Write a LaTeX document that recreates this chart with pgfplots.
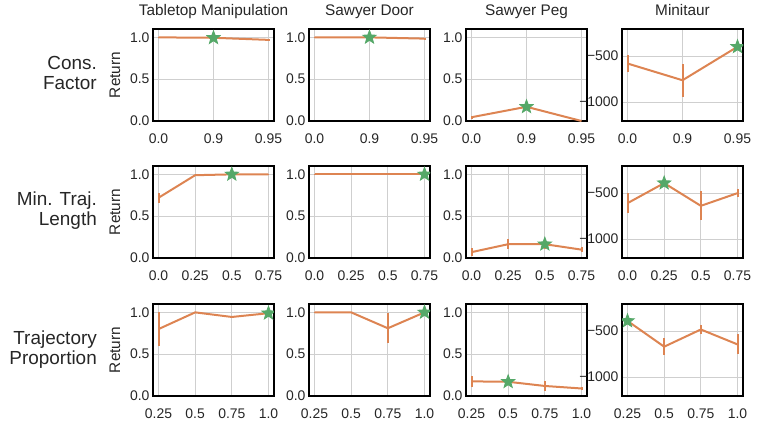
\documentclass[border=0pt]{standalone}
\usepackage{fontspec}
\setmainfont{Liberation Sans}
\usepackage{pgfplots}
\pgfplotsset{compat=1.18}

\definecolor{lineorange}{HTML}{DD8452}
\definecolor{stargreen}{HTML}{55A868}
\definecolor{gridgray}{HTML}{CFCFCF}
\definecolor{txt}{HTML}{262626}

% filled five-pointed star, like matplotlib's '*'
\pgfdeclareplotmark{fstar}{%
  \pgfpathmoveto{\pgfpointpolar{90}{\pgfplotmarksize}}%
  \pgfpathlineto{\pgfpointpolar{126}{0.42\pgfplotmarksize}}%
  \pgfpathlineto{\pgfpointpolar{162}{\pgfplotmarksize}}%
  \pgfpathlineto{\pgfpointpolar{198}{0.42\pgfplotmarksize}}%
  \pgfpathlineto{\pgfpointpolar{234}{\pgfplotmarksize}}%
  \pgfpathlineto{\pgfpointpolar{270}{0.42\pgfplotmarksize}}%
  \pgfpathlineto{\pgfpointpolar{306}{\pgfplotmarksize}}%
  \pgfpathlineto{\pgfpointpolar{342}{0.42\pgfplotmarksize}}%
  \pgfpathlineto{\pgfpointpolar{18}{\pgfplotmarksize}}%
  \pgfpathlineto{\pgfpointpolar{54}{0.42\pgfplotmarksize}}%
  \pgfpathclose
  \pgfusepathqfillstroke
}

\pgfplotsset{
  panel/.style={
    scale only axis, width=121bp, height=92bp, anchor=north west,
    axis line style={line width=1.5bp, black},
    grid=major, major grid style={line width=1.1bp, gridgray},
    major tick length=0pt,
    clip marker paths=true,
    ticklabel style={font=\fontsize{14}{16}\selectfont, text=txt},
    xticklabel style={anchor=base, yshift=-22bp},
    title style={font=\fontsize{15.4}{17}\selectfont, text=txt,
      at={(0.5,1)}, anchor=base, yshift=8bp},
    ylabel style={font=\fontsize{15.4}{17}\selectfont, text=txt,
      at={(axis description cs:-0.314,0.5)}, anchor=center, rotate=0},
  },
  unit/.style={ymin=0, ymax=1.1, ytick={0,0.5,1}, yticklabels={0.0,0.5,1.0}},
  mini/.style={ymin=-1205, ymax=-205, ytick={-1000,-500},
    yticklabels={{−1000},{−500}}},
  cf/.style={xmin=-0.1, xmax=2.1, xtick={0,1,2}, xticklabels={0.0,0.9,0.95}},
  mtl/.style={xmin=-0.15, xmax=3.15, xtick={0,1,2,3}, xticklabels={0.0,0.25,0.5,0.75}},
  tp/.style={xmin=-0.15, xmax=3.15, xtick={0,1,2,3}, xticklabels={0.25,0.5,0.75,1.0}},
  curve/.style={lineorange, line width=2bp, no marks,
    error bars/.cd, y dir=both, y explicit, error mark=none,
    error bar style={line width=2bp, lineorange}},
  best/.style={only marks, mark=fstar, mark size=7bp,
    mark options={fill=stargreen, draw=stargreen, line width=0.8bp}},
}

\begin{document}
\begin{tikzpicture}
\path[use as bounding box] (0bp,0bp) rectangle (761bp,-431bp);

\begin{scope}[font=\fontsize{19}{20}\selectfont, text=txt]
\node[anchor=east, align=right, inner sep=0pt] at (97bp,-73bp) {Cons.\\Factor};
\node[anchor=east, align=right, inner sep=0pt] at (97bp,-211bp) {Min. Traj.\\Length};
\node[anchor=east, align=right, inner sep=0pt] at (97bp,-350bp) {Trajectory\\Proportion};
\end{scope}

% ---- row 1: Cons. Factor
\begin{axis}[panel, unit, cf, at={(153bp,-29bp)}, title={Tabletop Manipulation}, ylabel={Return}]
\addplot[curve] coordinates {(0,1.0) +- (0,0.004) (1,0.995) +- (0,0.004) (2,0.97) +- (0,0.006)};
\addplot[best] coordinates {(1,0.995)};
\end{axis}
\begin{axis}[panel, unit, cf, at={(309bp,-29bp)}, title={Sawyer Door}]
\addplot[curve] coordinates {(0,1.0) +- (0,0.002) (1,1.0) +- (0,0.002) (2,0.985) +- (0,0.004)};
\addplot[best] coordinates {(1,1.0)};
\end{axis}
\begin{axis}[panel, unit, cf, at={(466bp,-29bp)}, title={Sawyer Peg}]
\addplot[curve] coordinates {(0,0.045) +- (0,0.02) (1,0.17) +- (0,0.03) (2,0.0) +- (0,0.0)};
\addplot[best] coordinates {(1,0.17)};
\end{axis}

% ---- row 2: Min. Traj. Length
\begin{axis}[panel, unit, mtl, at={(153bp,-166bp)}, ylabel={Return}]
\addplot[curve] coordinates {(0,0.72) +- (0,0.06) (1,0.99) +- (0,0.005) (2,1.0) +- (0,0.003) (3,1.0) +- (0,0.003)};
\addplot[best] coordinates {(2,1.0)};
\end{axis}
\begin{axis}[panel, unit, mtl, at={(309bp,-166bp)}]
\addplot[curve] coordinates {(0,1.0) +- (0,0.002) (1,1.0) +- (0,0.002) (2,1.0) +- (0,0.002) (3,1.0) +- (0,0.002)};
\addplot[best] coordinates {(3,1.0)};
\end{axis}
\begin{axis}[panel, unit, mtl, at={(466bp,-166bp)}]
\addplot[curve] coordinates {(0,0.07) +- (0,0.05) (1,0.165) +- (0,0.06) (2,0.165) +- (0,0.06) (3,0.10) +- (0,0.03)};
\addplot[best] coordinates {(2,0.165)};
\end{axis}

% ---- row 3: Trajectory Proportion
\begin{axis}[panel, unit, tp, at={(153bp,-304bp)}, ylabel={Return}]
\addplot[curve] coordinates {(0,0.80) +- (0,0.2) (1,1.0) +- (0,0.004) (2,0.945) +- (0,0.01) (3,0.99) +- (0,0.01)};
\addplot[best] coordinates {(3,0.99)};
\end{axis}
\begin{axis}[panel, unit, tp, at={(309bp,-304bp)}]
\addplot[curve] coordinates {(0,1.0) +- (0,0.002) (1,1.0) +- (0,0.002) (2,0.81) +- (0,0.18) (3,1.0) +- (0,0.004)};
\addplot[best] coordinates {(3,1.0)};
\end{axis}
\begin{axis}[panel, unit, tp, at={(466bp,-304bp)}]
\addplot[curve] coordinates {(0,0.175) +- (0,0.07) (1,0.17) +- (0,0.03) (2,0.12) +- (0,0.06) (3,0.09) +- (0,0.02)};
\addplot[best] coordinates {(1,0.17)};
\end{axis}

% ---- Minitaur column last, so its tick labels sit on top
\begin{axis}[panel, mini, cf, at={(622bp,-29bp)}, title={Minitaur}]
\addplot[curve] coordinates {(0,-580) +- (0,90) (1,-762) +- (0,180) (2,-398) +- (0,15)};
\addplot[best] coordinates {(2,-398)};
\end{axis}
\begin{axis}[panel, mini, mtl, at={(622bp,-166bp)}]
\addplot[curve] coordinates {(0,-609) +- (0,109) (1,-391) +- (0,20) (2,-638) +- (0,158) (3,-500) +- (0,45)};
\addplot[best] coordinates {(1,-391)};
\end{axis}
\begin{axis}[panel, mini, tp, at={(622bp,-304bp)}]
\addplot[curve] coordinates {(0,-389) +- (0,10) (1,-669) +- (0,95) (2,-482) +- (0,54) (3,-644) +- (0,108)};
\addplot[best] coordinates {(0,-389)};
\end{axis}
\end{tikzpicture}
\end{document}
